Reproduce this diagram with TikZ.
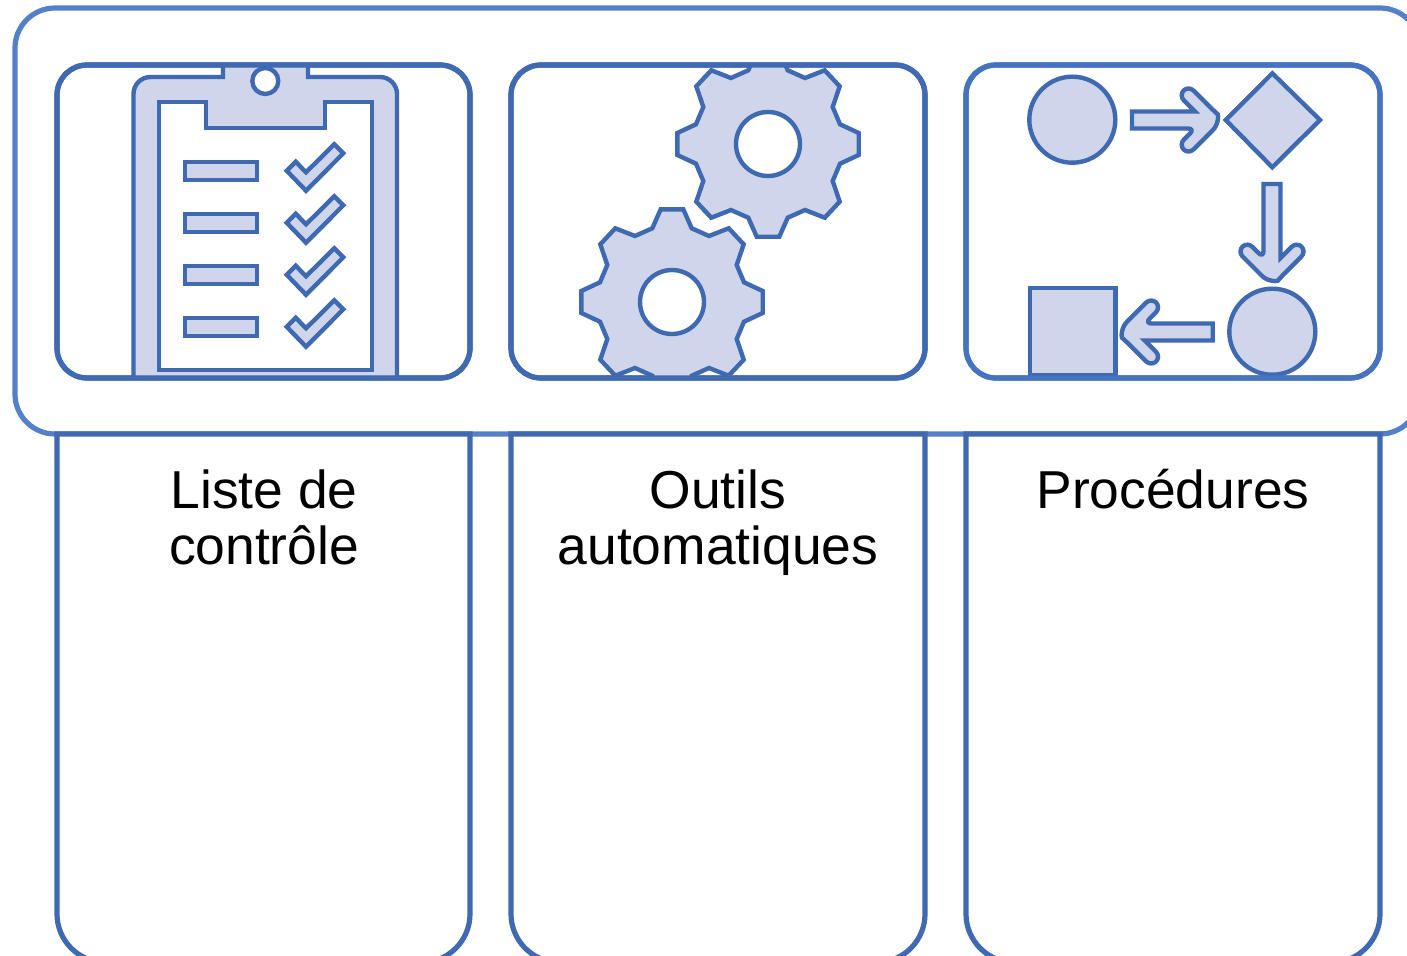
\documentclass[tikz,border=0pt]{standalone}
\usepackage{fontspec}
\setmainfont{Liberation Sans}
\definecolor{lineA}{HTML}{3F69B1}
\definecolor{lineB}{HTML}{4672C0}
\definecolor{lineO}{HTML}{5380C8}
\definecolor{fillA}{HTML}{CFD6EB}
\tikzset{
  icon/.style={draw=lineA,fill=fillA,line width=4.4pt,line join=miter},
  hole/.style={draw=lineA,fill=white,line width=4.4pt},
  panel/.style={draw=lineA,line width=5.2pt,fill=white,rounded corners=30pt},
  column/.style={draw=lineA,line width=5.2pt,fill=white},
  outerbox/.style={draw=lineO,line width=5.2pt,fill=white,rounded corners=40pt},
  label/.style={font=\fontsize{53.4pt}{56pt}\selectfont,align=center,text=black,anchor=base,inner sep=0pt}
}
\newcommand{\gearpath}{(11.3,-92.7) -- (19.7,-73.7) -- (37,-66) -- (56.7,-73.7) -- (71.7,-57.7) -- (64.7,-37) -- (72,-19.7) -- (90.7,-11) -- (90.7,11) -- (72,19.7) -- (64.7,37) -- (71.7,57.7) -- (56.7,73.7) -- (37,66) -- (19.7,73.7) -- (11.3,92.7) -- (-11.3,92.7) -- (-19.7,73.7) -- (-37,66) -- (-56.7,73.7) -- (-71.7,57.7) -- (-64.7,37) -- (-72,19.7) -- (-90.7,11) -- (-90.7,-11) -- (-72,-19.7) -- (-64.7,-37) -- (-71.7,-57.7) -- (-56.7,-73.7) -- (-37,-66) -- (-19.7,-73.7) -- (-11.3,-92.7) -- cycle}
\newcommand{\blockarrow}[4]{%
  \begin{scope}[shift={(#1,#2)},rotate=#3]
    \draw[icon] (-#4,-8.5) -- (-22,-8.5) {[rounded corners=7pt] -- (-38.2,-24.7) -- (-28.5,-34.4) -- (-4.5,-10.4)} .. controls (1.5,-5) and (1.5,5) .. (-4.5,10.4) {[rounded corners=7pt] -- (-28.5,34.4) -- (-38.2,24.7) -- (-22,8.5)} -- (-#4,8.5) -- cycle;
  \end{scope}}
\begin{document}
\begin{tikzpicture}[x=1pt,y=-1pt]
\clip (0,0) rectangle (1407,955);
% outer frame
\draw[outerbox] (15,8) rectangle (1420,434);
% columns below
\foreach \xa/\xb in {57/470,511/925,966/1380}{
  \draw[column] (\xa,434) -- (\xa,914) .. controls (\xa,940) and (\xa+21,962) .. (\xa+47,962) -- (\xb-47,962) .. controls (\xb-21,962) and (\xb,940) .. (\xb,914) -- (\xb,434) -- cycle;
}
% panels
\draw[panel] (57,65) rectangle (470,378);
\draw[panel] (511,65) rectangle (925,378);
\draw[panel,draw=lineB] (966,65) rectangle (1380,378);
% clipboard
\begin{scope}
  \clip (57,65) rectangle (470,378);
  \draw[icon] (133.5,378) -- (133.5,94) .. controls (133.5,84.6) and (141,77) .. (150.5,77) -- (223,77) -- (223,65) -- (308,65) -- (308,77) -- (380,77) .. controls (389.4,77) and (397,84.6) .. (397,94) -- (397,378) -- cycle;
  \draw[hole] (159,102) -- (206,102) -- (206,128) -- (325,128) -- (325,102) -- (372,102) -- (372,370) -- (159,370) -- cycle;
\end{scope}
\draw[hole] (265.3,81) circle (13pt);
\foreach \d in {0,52,104,156}{
  \draw[icon] (185,162+\d) rectangle (257,180+\d);
  \draw[icon] (286.7,170.7+\d) -- (295.7,161.7+\d) -- (306,172.3+\d) -- (334.3,144.3+\d) -- (343.3,153.3+\d) -- (306,190.7+\d) -- cycle;
}
% gears
\begin{scope}
  \clip (511,65) rectangle (925,378);
  \begin{scope}[shift={(768,144)}]
    \draw[icon] \gearpath;
    \draw[hole] (0,0) circle (32pt);
  \end{scope}
  \begin{scope}[shift={(672,302)}]
    \draw[icon] \gearpath;
    \draw[hole] (0,0) circle (32pt);
  \end{scope}
\end{scope}
% procedure icons
\draw[icon] (1072.3,119.7) circle (43pt);
\blockarrow{1217}{120}{0}{85}
\draw[icon] (1272.3,73.3) -- (1320,120) -- (1272.3,167.3) -- (1225.7,120) -- cycle;
\blockarrow{1272}{280}{-90}{96}
\draw[icon] (1272.3,331.7) circle (43pt);
\draw[icon] (1029.7,288) rectangle (1115.3,375);
\blockarrow{1122.7}{332}{180}{90}
% redraw panel edges over icons
\draw[panel,fill=none] (57,65) rectangle (470,378);
\draw[panel,fill=none] (511,65) rectangle (925,378);
\draw[panel,fill=none,draw=lineB] (966,65) rectangle (1380,378);
% labels
\node[label] (liste) at (264,564) {Liste de\\contrôle};
\node[label] (outils) at (718,564) {Outils\\automatiques};
\node[label] (proc) at (1173,508) {Procédures};
\end{tikzpicture}
\end{document}
